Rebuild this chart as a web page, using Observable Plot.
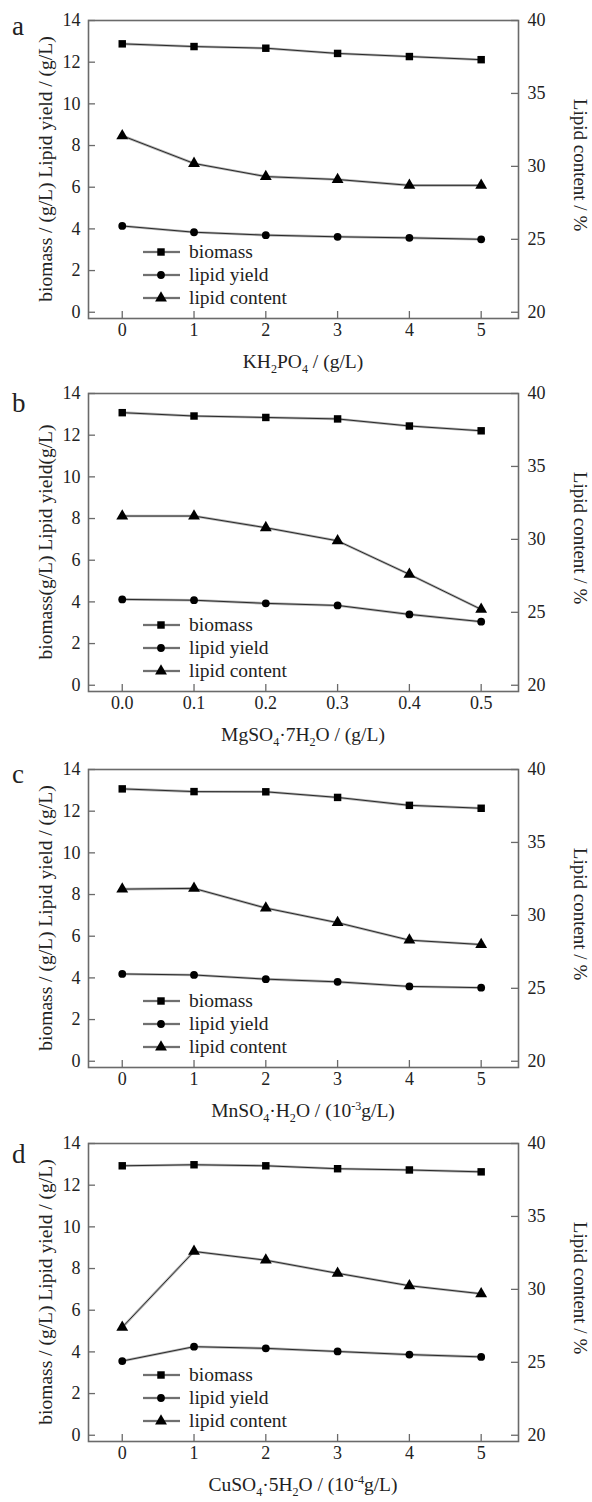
<!DOCTYPE html>
<html><head><meta charset="utf-8">
<script src="https://cdn.jsdelivr.net/npm/d3@7"></script>
<script src="https://cdn.jsdelivr.net/npm/@observablehq/plot@0.6"></script>
<style>
body{margin:0;background:#fff;}
#root{position:relative;width:592px;height:1502px;overflow:hidden;}
.panel{position:absolute;left:0;width:592px;}
</style></head><body><div id="root"></div>
<script>
// ---------- data ----------
const panelLetters = ["a", "b", "c", "d"];
const xValuesA = [0, 1, 2, 3, 4, 5];
const xValuesB = [0, 0.1, 0.2, 0.3, 0.4, 0.5];
const xValuesC = [0, 1, 2, 3, 4, 5];
const xValuesD = [0, 1, 2, 3, 4, 5];

const biomassA = [12.88, 12.75, 12.67, 12.42, 12.27, 12.12];
const lipidYieldA = [4.14, 3.84, 3.70, 3.62, 3.57, 3.50];
const lipidContentA = [32.1, 30.2, 29.3, 29.1, 28.7, 28.7];

const biomassB = [13.08, 12.92, 12.85, 12.78, 12.44, 12.21];
const lipidYieldB = [4.12, 4.08, 3.93, 3.83, 3.40, 3.05];
const lipidContentB = [31.6, 31.6, 30.8, 29.9, 27.6, 25.2];

const biomassC = [13.07, 12.94, 12.93, 12.66, 12.28, 12.14];
const lipidYieldC = [4.19, 4.14, 3.94, 3.81, 3.59, 3.53];
const lipidContentC = [31.8, 31.85, 30.5, 29.5, 28.3, 28.0];

const biomassD = [12.93, 12.98, 12.93, 12.79, 12.73, 12.64];
const lipidYieldD = [3.56, 4.25, 4.17, 4.02, 3.87, 3.76];
const lipidContentD = [27.4, 32.6, 32.0, 31.1, 30.25, 29.7];

const xLabels = ["KH₂PO₄ / (g/L)", "MgSO₄·7H₂O / (g/L)", "MnSO₄·H₂O / (10⁻³g/L)", "CuSO₄·5H₂O / (10⁻⁴g/L)"];
const leftLabels = ["biomass / (g/L) Lipid yield / (g/L)", "biomass(g/L) Lipid yield(g/L)",
                    "biomass / (g/L) Lipid yield / (g/L)", "biomass / (g/L) Lipid yield / (g/L)"];
const rightLabel = "Lipid content / %";
const seriesNames = ["biomass", "lipid yield", "lipid content"];
const leftTicks = [0, 2, 4, 6, 8, 10, 12, 14];
const rightTicks = [20, 25, 30, 35, 40];

// ---------- rendering ----------
const FONT = "'Liberation Serif', 'Times New Roman', serif";
const toLeft = c => (c - 20) * 0.7;   // right-axis (20..40) mapped onto left units (0..14)
const fromLeft = v => Math.round(v / 0.7 + 20);
const symbols = ["square", "circle", "triangle"];
const symbolR = [4.2, 3.9, 4.4];

// writes a string with unicode sub/superscript digits as shifted, smaller tspans
function addRichText(sel, str, size) {
  const sub = "₀₁₂₃₄₅₆₇₈₉", sup = "⁰¹²³⁴⁵⁶⁷⁸⁹⁻", supPlain = "0123456789-";
  const segs = [];
  for (const ch of str) {
    let m = "n", c = ch;
    const si = sub.indexOf(ch), pi = sup.indexOf(ch);
    if (si >= 0) { m = "sub"; c = String(si); }
    else if (pi >= 0) { m = "sup"; c = supPlain[pi]; }
    if (segs.length && segs[segs.length - 1].m === m) segs[segs.length - 1].t += c;
    else segs.push({m, t: c});
  }
  let cur = 0;
  for (const s of segs) {
    const target = s.m === "sub" ? size * 0.25 : s.m === "sup" ? -size * 0.38 : 0;
    const t = sel.append("tspan").attr("dy", target - cur).text(s.t);
    if (s.m !== "n") t.attr("font-size", size * 0.62);
    cur = target;
  }
}

function drawPanel(i, xs, bio, ly, lc, fmt) {
  const W = 592, H = 375, mL = 88, mR = 74, mT = 20, mB = 57;
  const fw = W - mL - mR, fh = H - mT - mB;
  const rows = xs.map((x, j) => ({x, biomass: bio[j], yield: ly[j], content: toLeft(lc[j])}));
  const keys = ["biomass", "yield", "content"];
  const step = xs[1] - xs[0];
  const axisColor = "#6a6a6a";
  const tickFont = {fontSize: 18, fill: "#222"};

  const marks = [
    Plot.frame({stroke: axisColor, strokeWidth: 1.6}),
    Plot.tickY(leftTicks, {y: d => d, insetRight: fw - 7, stroke: axisColor, strokeWidth: 1.3}),
    Plot.tickY(rightTicks.map(toLeft), {y: d => d, insetLeft: fw - 7, stroke: axisColor, strokeWidth: 1.3}),
    Plot.tickX(xs, {x: d => d, insetTop: fh - 7, stroke: axisColor, strokeWidth: 1.3}),
    Plot.axisY({anchor: "left", ticks: leftTicks, tickSize: 0, tickPadding: 8, label: null, ...tickFont}),
    Plot.axisY({anchor: "right", ticks: rightTicks.map(toLeft), tickFormat: fromLeft, tickSize: 0, tickPadding: 9, label: null, ...tickFont}),
    Plot.axisX({anchor: "bottom", ticks: xs, tickFormat: fmt, tickSize: 0, tickPadding: 5, label: null, ...tickFont})
  ];
  keys.forEach((k, s) => {
    marks.push(Plot.line(rows, {x: "x", y: k, stroke: "#b5b5b5", strokeWidth: 2.6}));
    marks.push(Plot.line(rows, {x: "x", y: k, stroke: "#2a2a2a", strokeWidth: 1}));
    marks.push(Plot.dot(rows, {x: "x", y: k, symbol: symbols[s], r: symbolR[s], fill: "#000", stroke: "none"}));
  });

  const svg = Plot.plot({
    width: W, height: H,
    marginLeft: mL, marginRight: mR, marginTop: mT, marginBottom: mB,
    style: {fontFamily: FONT, fontSize: "18px", color: "#222", background: "transparent", overflow: "visible"},
    x: {type: "linear", domain: [xs[0] - 0.47 * step, xs[xs.length - 1] + 0.52 * step]},
    y: {type: "linear", domain: [-0.3, 14]},
    marks
  });
  // force the serif face on every tick label
  d3.select(svg).selectAll("text").style("font-family", FONT).style("font-variant-numeric", "normal");

  const g = d3.select(svg).append("g").attr("fill", "#222").attr("text-anchor", "start")
    .style("font-family", FONT);
  // panel letter
  const letterBase = [35, 39, 34, 40][i];
  g.append("text").attr("x", 12).attr("y", letterBase).attr("font-size", 27).text(panelLetters[i]);
  // left label
  g.append("text").attr("transform", `translate(45,${mT + fh / 2}) rotate(-90)`)
    .attr("text-anchor", "middle").attr("dominant-baseline", "central").attr("font-size", 19.5)
    .text(leftLabels[i]);
  // right label
  g.append("text").attr("transform", `translate(580,${mT + fh / 2 - 4}) rotate(90)`)
    .attr("text-anchor", "middle").attr("dominant-baseline", "central").attr("font-size", 19)
    .text(rightLabel);
  // x label
  const xl = g.append("text").attr("x", mL + fw / 2).attr("y", H - 7)
    .attr("text-anchor", "middle").attr("font-size", 19.5);
  addRichText(xl, xLabels[i], 19.5);
  // legend
  const legendDy = [-66, -43, -20];
  seriesNames.forEach((name, s) => {
    const y = mT + fh + legendDy[s];
    g.append("line").attr("x1", 143).attr("x2", 180).attr("y1", y).attr("y2", y)
      .attr("stroke", "#b5b5b5").attr("stroke-width", 2.6);
    g.append("line").attr("x1", 143).attr("x2", 180).attr("y1", y).attr("y2", y)
      .attr("stroke", "#2a2a2a").attr("stroke-width", 1);
    const sym = [d3.symbolSquare, d3.symbolCircle, d3.symbolTriangle][s];
    g.append("path").attr("transform", `translate(161,${y})`)
      .attr("d", d3.symbol(sym, Math.PI * symbolR[s] * symbolR[s])()).attr("fill", "#000");
    g.append("text").attr("x", 189).attr("y", y).attr("dy", "0.33em")
      .attr("font-size", 19.5).text(name);
  });

  const div = document.createElement("div");
  div.className = "panel";
  div.style.top = [0, 373, 749, 1123][i] + "px";
  div.appendChild(svg);
  document.getElementById("root").appendChild(div);
}

const intFmt = d3.format("d"), decFmt = d3.format(".1f");
drawPanel(0, xValuesA, biomassA, lipidYieldA, lipidContentA, intFmt);
drawPanel(1, xValuesB, biomassB, lipidYieldB, lipidContentB, decFmt);
drawPanel(2, xValuesC, biomassC, lipidYieldC, lipidContentC, intFmt);
drawPanel(3, xValuesD, biomassD, lipidYieldD, lipidContentD, intFmt);
</script></body></html>
